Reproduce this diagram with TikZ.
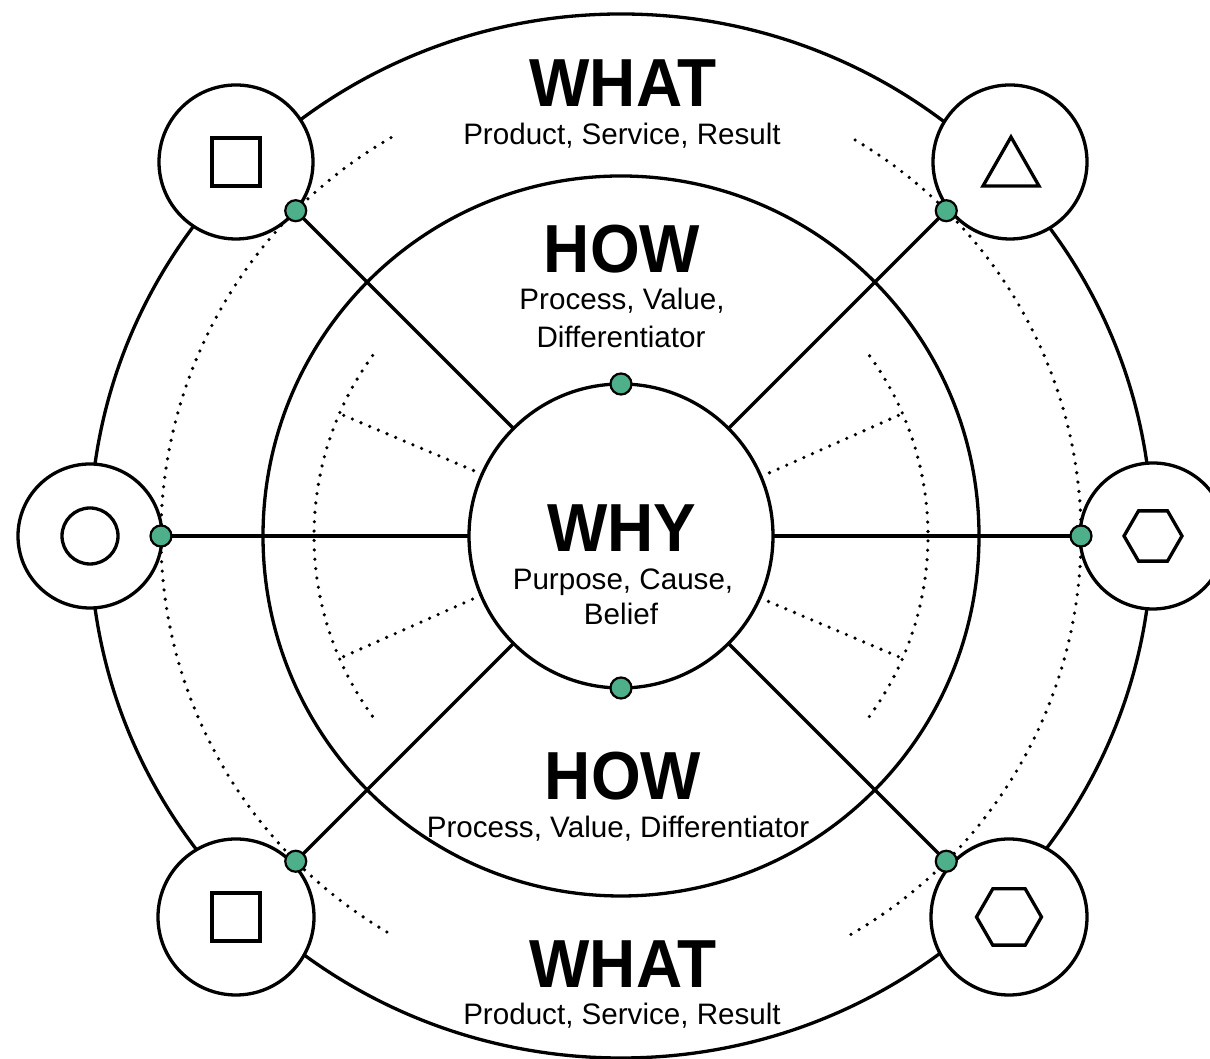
\documentclass[tikz,border=0pt]{standalone}
\usepackage{fontspec}
\setmainfont{Liberation Sans}
\newfontfamily\titlefont{Liberation Sans}[FakeStretch=0.94]
\usetikzlibrary{calc}
\definecolor{dotgreen}{HTML}{4DB08A}
\begin{document}
\begin{tikzpicture}[x=0.5pt,y=0.5pt,
  ring/.style={line width=1.65pt},
  dotline/.style={line width=1.8pt, line cap=round, dash pattern=on 0pt off 4.7pt},
  bigc/.style={circle, draw, line width=1.65pt, fill=white, inner sep=0pt, outer sep=0pt},
  gdot/.style={circle, draw, line width=1.1pt, fill=dotgreen, minimum size=10.5pt, inner sep=0pt, outer sep=0pt},
  title/.style={font=\titlefont\bfseries\fontsize{34}{34}\selectfont, anchor=base, inner sep=0pt},
  sub/.style={font=\fontsize{14.8}{17}\selectfont, anchor=base, inner sep=0pt},
  glyph/.style={line width=1.65pt, line join=miter}]
\useasboundingbox (0,0) rectangle (1210,1059);
\coordinate (C) at (621,523);
% outer and middle rings
\draw[ring] (C) ellipse [x radius=531, y radius=522];
\draw[ring] (C) ellipse [x radius=358, y radius=360];
% dotted arcs
\draw[dotline] ($(C)+(120:460)$) arc[start angle=120, end angle=240, radius=460];
\draw[dotline] ($(C)+(-60:460)$) arc[start angle=-60, end angle=60, radius=460];
\draw[dotline] ($(C)+(144:307)$) arc[start angle=144, end angle=216, radius=307];
\draw[dotline] ($(C)+(-36:307)$) arc[start angle=-36, end angle=36, radius=307];
% WHY circle
\node[bigc, minimum size=152pt] (why) at (C) {};
% dotted radials
\foreach \a in {23.5,156.5,203.5,336.5}
  \draw[dotline] (why.\a) -- ($(C)+(\a:307)$);
% spoke end coordinates
\foreach \a in {0,45,135,180,225,315}
  \coordinate (p\a) at ($(C)+(\a:460)$);
\foreach \a in {0,45,135,180,225,315}
  \draw[ring] (why.\a) -- (p\a);
% satellite circles
\node[bigc, minimum size=77pt] (tl) at (236,897) {};
\node[bigc, minimum size=77pt] (tr) at (1010,897) {};
\node[bigc, minimum size=72pt] (lc) at (90,523) {};
\node[bigc, minimum size=73pt] (rc) at (1153,523) {};
\node[bigc, minimum size=78pt] (bl) at (236,142) {};
\node[bigc, minimum size=78pt] (br) at (1009,142) {};
% glyphs
\draw[glyph] ($(tl)+(-24,-24)$) rectangle ($(tl)+(24,24)$);
\draw[glyph] (1011,922) -- (1039,873) -- (983,873) -- cycle;
\draw[glyph] (lc) circle [radius=28];
\draw[glyph] (rc) +(0:29) -- +(60:29) -- +(120:29) -- +(180:29) -- +(240:29) -- +(300:29) -- cycle;
\draw[glyph] ($(bl)+(-24,-24)$) rectangle ($(bl)+(24,24)$);
\draw[glyph] (br) +(0:32.5) -- +(60:32.5) -- +(120:32.5) -- +(180:32.5) -- +(240:32.5) -- +(300:32.5) -- cycle;
% green dots
\foreach \a in {0,45,135,180,225,315}
  \node[gdot] (g\a) at (p\a) {};
\node[gdot] (gtop) at (why.90) {};
\node[gdot] (gbot) at (why.270) {};
% texts
\node[title] (what1) at (623,952) {WHAT};
\node[sub] (what1s) at (622,914) {Product, Service, Result};
\node[title] (how1) at (622,786) {HOW};
\node[sub] (how1s) at (622,749) {Process, Value,};
\node[sub] (how1t) at (621,711) {Differentiator};
\node[title] (whyt) at (622,507) {WHY};
\node[sub] (whys) at (623,469) {Purpose, Cause,};
\node[sub] (whyb) at (621,434) {Belief};
\node[title] (how2) at (623,259) {HOW};
\node[sub] (how2s) at (618,221) {Process, Value, Differentiator};
\node[title] (what2) at (623,71) {WHAT};
\node[sub] (what2s) at (622,34) {Product, Service, Result};
\end{tikzpicture}
\end{document}
